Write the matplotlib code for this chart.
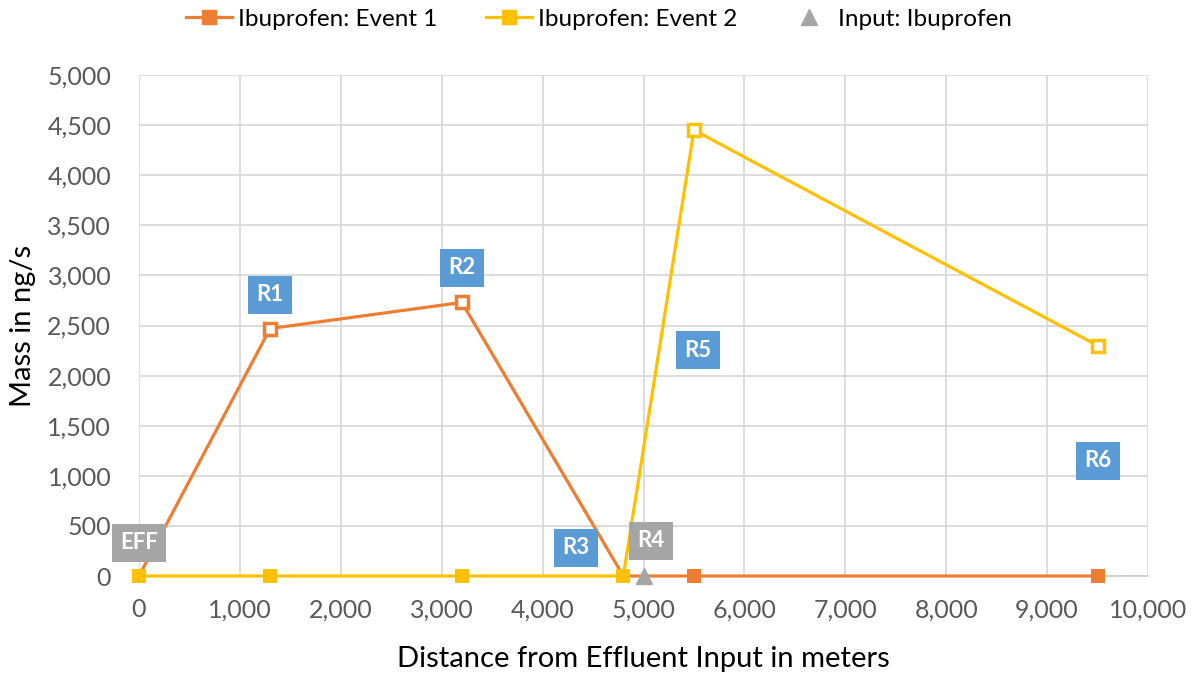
import numpy as np
import matplotlib
matplotlib.use("Agg")
import matplotlib.pyplot as plt
from matplotlib.lines import Line2D

# data
distance = [0, 1300, 3200, 4800, 5500, 9500]
event1 = [0, 2470, 2730, 0, 0, 0]
event2 = [0, 0, 0, 0, 4450, 2300]
input_x = [5000]
input_y = [0]

site_names = ["EFF", "R1", "R2", "R3", "R4", "R5", "R6"]
site_x = [0, 1300, 3200, 4330, 5075, 5540, 9500]
site_y = [330, 2805, 3075, 280, 350, 2255, 1150]
site_gray = [True, False, False, False, True, False, False]

ORANGE = "#ED7D31"
YELLOW = "#FFC000"
GRAY = "#A5A5A5"
BLUE = "#5B9BD5"


def draw_series(ax, x, y, color):
    ax.plot(x, y, color=color, linewidth=2.3, zorder=3, clip_on=False,
            solid_capstyle="round", solid_joinstyle="round")
    for xi, yi in zip(x, y):
        if yi > 0:
            ax.plot(xi, yi, marker="s", markersize=9, markerfacecolor="white",
                    markeredgecolor=color, markeredgewidth=2.5, zorder=4, clip_on=False)
        else:
            ax.plot(xi, yi, marker="s", markersize=10.5, markerfacecolor=color,
                    markeredgecolor=color, markeredgewidth=0, zorder=4, clip_on=False)


def main():
    plt.rcParams["font.family"] = ["Lato", "DejaVu Sans"]
    fig = plt.figure(figsize=(11.98, 6.77), dpi=100)
    ax = fig.add_axes([139 / 1198, 1 - 576 / 677, (1148 - 139) / 1198, (576 - 75) / 677])

    draw_series(ax, distance, event1, ORANGE)
    draw_series(ax, distance, event2, YELLOW)
    ax.plot(input_x, input_y, linestyle="none", marker="^", markersize=12,
            color=GRAY, zorder=5, clip_on=False)

    for name, sx, sy, g in zip(site_names, site_x, site_y, site_gray):
        ax.text(sx, sy, name, ha="center", va="center", color="white",
                fontsize=16, fontweight="bold", zorder=6,
                bbox=dict(boxstyle="square,pad=0.38",
                          facecolor=GRAY if g else BLUE, edgecolor="none"))

    ax.set_xlim(0, 10000)
    ax.set_ylim(0, 5000)
    ax.set_xticks(np.arange(0, 10001, 1000))
    ax.set_yticks(np.arange(0, 5001, 500))
    ax.xaxis.set_major_formatter(plt.FuncFormatter(lambda v, p: f"{v:,.0f}"))
    ax.yaxis.set_major_formatter(plt.FuncFormatter(lambda v, p: f"{v:,.0f}"))
    ax.tick_params(length=0, labelsize=18, labelcolor="#595959")
    ax.tick_params(axis="y", pad=20)
    ax.tick_params(axis="x", pad=16)
    ax.grid(True, color="#D9D9D9", linewidth=1.3)
    ax.set_axisbelow(True)
    for side in ["top", "right", "left"]:
        ax.spines[side].set_visible(False)
    ax.spines["bottom"].set_color("#D0D0D0")
    ax.spines["bottom"].set_linewidth(1.3)

    ax.set_xlabel("Distance from Effluent Input in meters", fontsize=21, labelpad=18)
    ax.set_ylabel("Mass in ng/s", fontsize=21, labelpad=8)

    handles = [
        Line2D([], [], color=ORANGE, linewidth=2.3, marker="s", markersize=10),
        Line2D([], [], color=YELLOW, linewidth=2.3, marker="s", markersize=10),
        Line2D([], [], color=GRAY, linestyle="none", marker="^", markersize=11),
    ]
    labels = ["Ibuprofen: Event 1", "Ibuprofen: Event 2", "Input: Ibuprofen"]
    fig.legend(handles, labels, loc="center", bbox_to_anchor=(0.5, 1 - 19 / 677),
               ncol=3, frameon=False, fontsize=17.5, handlelength=1.9,
               columnspacing=2.0, handletextpad=0.25)

    fig.savefig("out.png", dpi=100)


if __name__ == "__main__":
    main()
